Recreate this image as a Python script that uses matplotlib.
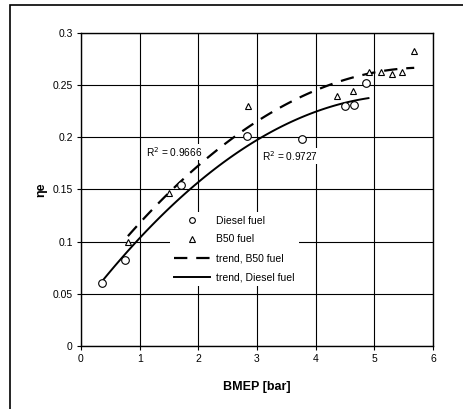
import numpy as np
import matplotlib
matplotlib.use("Agg")
import matplotlib.pyplot as plt
from matplotlib.patches import Rectangle

plt.rcParams['font.family'] = ['Liberation Sans', 'DejaVu Sans']

diesel_x = [0.35, 0.75, 1.70, 2.83, 3.77, 4.50, 4.65, 4.85]
diesel_y = [0.060, 0.082, 0.154, 0.201, 0.198, 0.230, 0.231, 0.252]
b50_x = [0.80, 1.50, 2.85, 4.36, 4.64, 4.91, 5.11, 5.30, 5.48, 5.68]
b50_y = [0.100, 0.147, 0.230, 0.240, 0.244, 0.263, 0.263, 0.261, 0.263, 0.283]

x_ticks = [0, 1, 2, 3, 4, 5, 6]
y_ticks = [0, 0.05, 0.1, 0.15, 0.2, 0.25, 0.3]
y_tick_labels = ['0', '0.05', '0.1', '0.15', '0.2', '0.25', '0.3']
r2_diesel = 0.9727
r2_b50 = 0.9666

fig = plt.figure(figsize=(4.64, 4.09), dpi=100)
fig.patches.append(Rectangle((10/464, -0.1), 1.2, 1 - 5/409 + 0.1, transform=fig.transFigure,
                             fill=False, edgecolor='black', linewidth=1.2, zorder=0))
ax = fig.add_axes([81/464, 1 - 346/409, (433-81)/464, (346-33)/409])

ax.set_xlim(0, 6)
ax.set_ylim(0, 0.3)
ax.set_xticks(x_ticks)
ax.set_yticks(y_ticks)
ax.set_yticklabels(y_tick_labels)
ax.grid(True, color='black', linewidth=0.8)
ax.set_axisbelow(True)
for s in ax.spines.values():
    s.set_linewidth(1.0)
ax.tick_params(direction='out', length=3, width=0.8, labelsize=7.5, pad=3)

# trends (2nd order polynomial fits)
pd_ = np.polyfit(diesel_x, diesel_y, 2)
pb_ = np.polyfit(b50_x, b50_y, 2)
xd = np.linspace(min(diesel_x), max(diesel_x) + 0.05, 100)
xb = np.linspace(min(b50_x), max(b50_x), 100)

ax.plot(diesel_x, diesel_y, linestyle='none', marker='o', markersize=5.5,
        markerfacecolor='white', markeredgecolor='black', markeredgewidth=0.8, label='Diesel fuel', zorder=3)
ax.plot(b50_x, b50_y, linestyle='none', marker='^', markersize=5,
        markerfacecolor='white', markeredgecolor='black', markeredgewidth=0.8, label='B50 fuel', zorder=3)
ax.plot(xb, np.polyval(pb_, xb), color='black', linewidth=1.6, dashes=(6, 4), label='trend, B50 fuel', zorder=2)
ax.plot(xd, np.polyval(pd_, xd), color='black', linewidth=1.4, label='trend, Diesel fuel', zorder=2)

ax.text(1.11, 0.186, 'R$^2$ = %.4f' % r2_b50, fontsize=7.3, ha='left', va='center',
        bbox=dict(facecolor='white', edgecolor='none', pad=1), zorder=4)
ax.text(3.08, 0.182, 'R$^2$ = %.4f' % r2_diesel, fontsize=7.3, ha='left', va='center',
        bbox=dict(facecolor='white', edgecolor='none', pad=1), zorder=4)

leg = ax.legend(loc='upper left', bbox_to_anchor=((170-81)/352, 1 - (212-33)/313),
                frameon=True, fontsize=7.5, handlelength=3.5, markerscale=0.75,
                borderpad=0.35, labelspacing=0.85, handletextpad=0.6, borderaxespad=0)
leg.get_frame().set_edgecolor('none')
leg.get_frame().set_facecolor('white')
leg.get_frame().set_alpha(1)
leg.get_frame().set_boxstyle('square', pad=0)

ax.set_xlabel('BMEP [bar]', fontsize=9, fontweight='bold', labelpad=12)
ax.set_ylabel('ηe', fontsize=9, fontweight='bold', labelpad=4)

fig.savefig('out.png', dpi=100)
